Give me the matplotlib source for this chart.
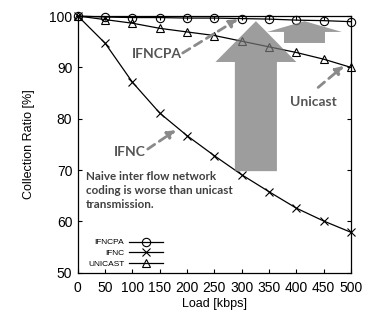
import numpy as np
import matplotlib
matplotlib.use('Agg')
import matplotlib.pyplot as plt
from matplotlib.patches import FancyArrow

plt.rcParams.update({
    'font.family': ['Liberation Sans', 'DejaVu Sans'],
    'font.size': 9,
})

load = [0, 50, 100, 150, 200, 250, 300, 350, 400, 450, 500]
ifncpa = [100, 99.8, 99.7, 99.7, 99.6, 99.6, 99.5, 99.4, 99.2, 99.1, 98.9]
ifnc = [100, 94.7, 87.1, 81.1, 76.7, 72.8, 69.1, 65.8, 62.6, 60.1, 57.9]
unicast = [100, 99.3, 98.6, 97.6, 96.9, 96.2, 95.1, 94.0, 92.9, 91.6, 90.0]

x_ticks = [0, 50, 100, 150, 200, 250, 300, 350, 400, 450, 500]
y_ticks = [50, 60, 70, 80, 90, 100]

GRAY = '#8a8a8a'
TXT = '#555555'

fig = plt.figure(figsize=(3.69, 3.14), dpi=100)
ax = fig.add_axes([0.211, 0.131, 0.74, 0.818])

mk = dict(color='black', lw=0.9, ms=6, mew=0.8, clip_on=False, zorder=3)
ax.plot(load, ifncpa, marker='o', mfc='none', label='IFNCPA', **mk)
ax.plot(load, ifnc, marker='x', label='IFNC', **mk)
ax.plot(load, unicast, marker='^', mfc='none', label='UNICAST', **mk)

# big grey arrows (decoration)
ax.add_patch(FancyArrow(326, 69.8, 0, 29.2, width=77, head_width=148, head_length=7.95,
                        length_includes_head=True, color='#777777', alpha=0.72, lw=0, zorder=4))
ax.add_patch(FancyArrow(415, 94.75, 0, 4.25, width=75, head_width=137, head_length=2.1,
                        length_includes_head=True, color='#777777', alpha=0.72, lw=0, zorder=4))

# labels with dashed arrows
ap = dict(arrowstyle='-|>', color=GRAY, lw=2, linestyle=(0, (3, 2)), mutation_scale=12,
          shrinkA=0, shrinkB=0)
tf = dict(family=['Lato', 'DejaVu Sans'], fontweight='bold', color=TXT, fontsize=10)
ax.text(145, 92.6, 'IFNCPA', ha='center', va='center', **tf)
ax.annotate('', xy=(293, 99.4), xytext=(192, 92.8), arrowprops=ap, zorder=5)
ax.text(432, 83.3, 'Unicast', ha='center', va='center', **tf)
ax.annotate('', xy=(487, 90.3), xytext=(440, 86.1), arrowprops=ap, zorder=5)
ax.text(95, 73.5, 'IFNC', ha='center', va='center', **tf)
ax.annotate('', xy=(179.5, 77.8), xytext=(128, 74.1), arrowprops=ap, zorder=5)

ax.text(14.6, 69.8, 'Naive inter flow network\ncoding is worse than unicast\ntransmission.',
        ha='left', va='top', family=['Lato', 'DejaVu Sans'], fontweight='bold',
        color='#404040', fontsize=8.4, linespacing=1.35)

ax.set_xlim(0, 500)
ax.set_ylim(50, 100)
ax.set_xticks(x_ticks)
ax.set_yticks(y_ticks)
ax.tick_params(direction='in', length=3, width=0.8, top=True, right=True, labelsize=10)
ax.tick_params(axis='x', pad=6)
ax.tick_params(axis='y', pad=4)
for s in ax.spines.values():
    s.set_linewidth(0.9)
ax.set_xlabel('Load [kbps]', labelpad=2)
ax.set_ylabel('Collection Ratio [%]', labelpad=10)

ax.legend(loc='lower left', bbox_to_anchor=(0.01, -0.01), markerfirst=False, frameon=False,
          fontsize=6, handlelength=4, labelspacing=0.35, handletextpad=0.6)

fig.savefig('out.png', dpi=100, facecolor='white')
